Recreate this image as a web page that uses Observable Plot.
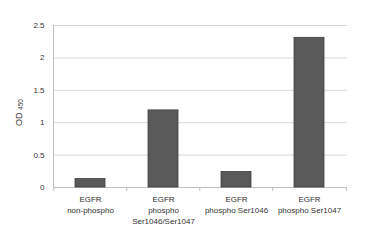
<!DOCTYPE html>
<html><head><meta charset="utf-8">
<script src="https://cdn.jsdelivr.net/npm/d3@7"></script>
<script src="https://cdn.jsdelivr.net/npm/@observablehq/plot@0.6"></script>
<style>
body{margin:0;background:#fff;}
#chart svg{font-family:"Liberation Sans",Arial,sans-serif;}
</style>
</head><body><div id="chart"></div>
<script>
const categories = ["EGFR\nnon-phospho", "EGFR\nphospho\nSer1046/Ser1047", "EGFR\nphospho Ser1046", "EGFR\nphospho Ser1047"];
const values = [0.13, 1.19, 0.24, 2.31];
const yTicks = [0, 0.5, 1, 1.5, 2, 2.5];
const yLabelMain = "OD";
const yLabelSub = "450";

const data = categories.map((c, i) => ({cat: c, v: values[i]}));
const W = 385, H = 250, mL = 53, mR = 38, mT = 25, mB = 63;
const step = (W - mL - mR) / categories.length;
const pad = 0.585;

const plot = Plot.plot({
  width: W, height: H,
  marginLeft: mL, marginRight: mR, marginTop: mT, marginBottom: mB,
  style: {fontSize: "8px", color: "#333", background: "#fff"},
  x: {domain: categories, paddingInner: pad, paddingOuter: pad / 2, label: null},
  y: {domain: [0, 2.5], label: null},
  marks: [
    Plot.ruleY(yTicks, {stroke: "#d9d9d9", strokeWidth: 1}),
    Plot.frame({anchor: "left", stroke: "#bfbfbf"}),
    Plot.ruleY([0], {stroke: "#bfbfbf"}),
    Plot.barY(data, {x: "cat", y: "v", fill: "#595959", stroke: "#404040", strokeWidth: 0.8}),
    Plot.axisY({ticks: yTicks, tickSize: 0, tickPadding: 9, tickFormat: d => String(d), label: null, fill: "#333"}),
    Plot.axisX({tickSize: 0, tickPadding: 6, lineHeight: 1.41, label: null, fill: "#333"}),
    Plot.axisX({ticks: categories, tickSize: 4, tickFormat: () => "", dx: -step / 2, stroke: "#bfbfbf", label: null}),
    Plot.axisX({ticks: categories.slice(-1), tickSize: 4, tickFormat: () => "", dx: step / 2, stroke: "#bfbfbf", label: null})
  ]
});

const svg = d3.select(plot);
const t = svg.append("text")
  .attr("transform", `translate(21.5,112.5) rotate(-90)`)
  .attr("text-anchor", "middle")
  .attr("fill", "#333")
  .attr("font-size", "9px");
t.append("tspan").text(yLabelMain);
t.append("tspan").attr("font-size", "6.5px").attr("dx", "2.5").attr("dy", "1.5").text(yLabelSub);
document.getElementById("chart").appendChild(plot);
</script>
</body></html>
